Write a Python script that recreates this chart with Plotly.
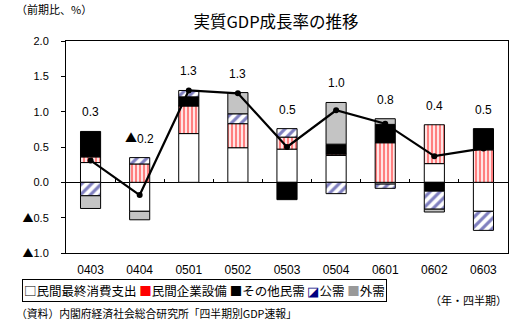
import plotly.graph_objects as go

quarters = ["0403", "0404", "0501", "0502", "0503", "0504", "0601", "0602", "0603"]
consumption = [0.28, -0.41, 0.69, 0.49, 0.47, 0.38, -0.025, 0.265, -0.41]
capex = [0.08, 0.26, 0.39, 0.34, 0.17, 0.02, 0.56, 0.55, 0.46]
other_private = [0.36, None, 0.13, None, -0.245, 0.14, 0.26, -0.125, 0.30]
public = [-0.19, 0.09, 0.09, 0.14, 0.12, -0.16, -0.06, -0.255, -0.27]
external = [-0.18, -0.12, None, 0.30, None, 0.59, 0.08, -0.04, None]
gdp = [0.31, -0.18, 1.30, 1.26, 0.50, 1.02, 0.83, 0.37, 0.48]

TRI = "<span style='font-family:Noto Sans CJK JP'>▲</span>"
ytick_vals = [-1.0, -0.5, 0.0, 0.5, 1.0, 1.5, 2.0]
ytick_text = [TRI + "1.0", TRI + "0.5", "0.0", "0.5", "1.0", "1.5", "2.0"]

names = ["民間最終消費支出", "民間企業設備", "その他民需", "公需", "外需"]

CJK = "Noto Sans CJK JP"
NUM = "Liberation Sans"

fig = go.Figure()
line = dict(color="black", width=1)
bw = 0.41
fig.add_bar(x=quarters, y=consumption, name=names[0], width=bw,
            marker=dict(color="white", line=line))
fig.add_bar(x=quarters, y=capex, name=names[1], width=bw,
            marker=dict(color="white", line=line,
                        pattern=dict(shape="|", fgcolor="#ff0000", bgcolor="white",
                                     size=4, solidity=0.6, fillmode="overlay")))
fig.add_bar(x=quarters, y=other_private, name=names[2], width=bw,
            marker=dict(color="black", line=line))
fig.add_bar(x=quarters, y=public, name=names[3], width=bw,
            marker=dict(color="white", line=line,
                        pattern=dict(shape="/", fgcolor="#000080", bgcolor="white",
                                     size=7, solidity=0.45, fillmode="overlay")))
fig.add_bar(x=quarters, y=external, name=names[4], width=bw,
            marker=dict(color="#c4c4c4", line=line))

fig.add_scatter(x=quarters, y=gdp, mode="lines+markers", xaxis="x2", yaxis="y",
                line=dict(color="black", width=2.2),
                marker=dict(color="black", size=6), name="GDP")


def fmt(v):
    r = round(v, 1)
    return (TRI + "%.1f" % abs(r)) if r < 0 else ("%.1f" % r)


tops = []
for i in range(len(quarters)):
    tops.append(sum(v for v in (consumption[i], capex[i], other_private[i], public[i], external[i])
                    if v is not None and v > 0))
labels = [fmt(v) for v in gdp]

anns = []
for i in range(len(quarters)):
    anns.append(dict(x=i, y=tops[i], xref="x", yref="y", text=labels[i],
                     showarrow=False, yanchor="bottom", yshift=10,
                     font=dict(family=NUM, size=12, color="black")))

# plot area pixels: left 66, right 508, top 41, bottom 253
W, H = 521, 322
L, R, T, B = 66, 508, 41, 253
pw, ph = R - L, B - T


def px(x):
    return (x - L) / pw


def py(y):
    return (B - y) / ph


legend_text = ("<span style='color:#000'>□</span>民間最終消費支出 "
               "<span style='color:#ff0000'>■</span>民間企業設備 "
               "■その他民需 "
               "<span style='color:#000080'>◪</span>公需 "
               "<span style='color:#999999'>■</span>外需")
anns.append(dict(x=px(22), y=py(290), xref="paper", yref="paper", xanchor="left",
                 yanchor="middle", text=legend_text, showarrow=False,
                 bordercolor="black", borderwidth=1, borderpad=1,
                 font=dict(family=CJK, size=12.5, color="black")))
anns.append(dict(x=px(14), y=py(9), xref="paper", yref="paper", xanchor="left",
                 yanchor="middle", text="（前期比、%）", showarrow=False,
                 font=dict(family=CJK, size=11, color="black")))
anns.append(dict(x=px(509), y=py(300), xref="paper", yref="paper", xanchor="right",
                 yanchor="middle", text="（年・四半期）", showarrow=False,
                 font=dict(family=CJK, size=11, color="black")))
anns.append(dict(x=px(14), y=py(313), xref="paper", yref="paper", xanchor="left",
                 yanchor="middle", text="（資料）内閣府経済社会総合研究所「四半期別GDP速報」",
                 showarrow=False, font=dict(family=CJK, size=10.8, color="black")))

fig.update_layout(
    width=W, height=H, barmode="relative", showlegend=False,
    paper_bgcolor="white", plot_bgcolor="white",
    margin=dict(l=L, r=W - R, t=T, b=H - B, pad=0),
    title=dict(text="実質GDP成長率の推移", x=276 / W, xanchor="center",
               y=1 - 22 / H, yanchor="middle",
               font=dict(family=CJK, size=16.5, color="black")),
    xaxis=dict(type="category", range=[-0.5, 8.5], showline=True, linecolor="black",
               linewidth=1, mirror=True, ticks="", showgrid=False,
               tickfont=dict(family=NUM, size=12, color="black"),
               ticklabelstandoff=6),
    xaxis2=dict(type="category", range=[-0.5, 8.5], overlaying="x", anchor="free",
                position=1 / 3, side="bottom", showline=False, showgrid=False,
                showticklabels=False, ticks="inside", ticklen=3, tickcolor="black",
                tickson="boundaries"),
    yaxis=dict(range=[-1, 2], tickvals=ytick_vals, ticktext=ytick_text,
               showline=True, linecolor="black", linewidth=1, mirror=True,
               ticks="outside", ticklen=4, tickcolor="black", showgrid=False,
               zeroline=True, zerolinecolor="black", zerolinewidth=1,
               tickfont=dict(family=NUM, size=11, color="black"),
               ticklabelstandoff=10),
    annotations=anns,
)

fig.write_html("out.html")
